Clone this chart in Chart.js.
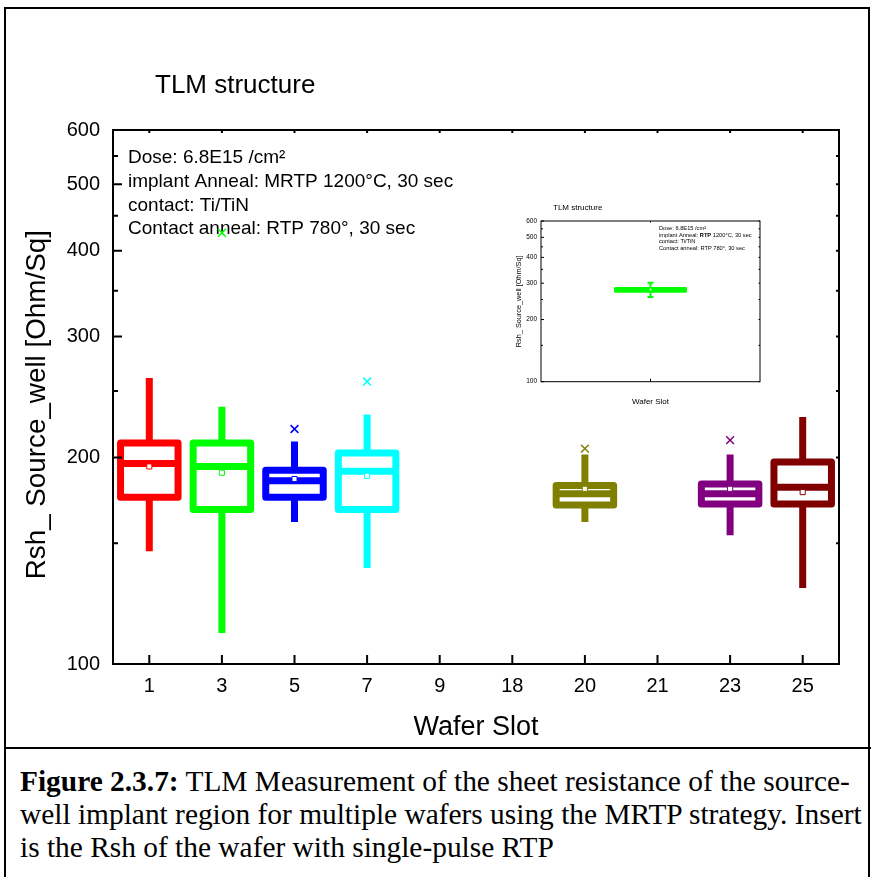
<!DOCTYPE html>
<html>
<head>
<meta charset="utf-8">
<script src="https://cdn.jsdelivr.net/npm/chart.js@4.4.0/dist/chart.umd.min.js"></script>
<style>
  html, body { margin: 0; padding: 0; background: #fff; }
  #fig { position: relative; width: 871px; height: 877px; overflow: hidden; }
  #frame { position: absolute; left: 4px; top: 7px; width: 866px; height: 900px; border: 2px solid #000; box-sizing: border-box; }
  #sep { position: absolute; left: 4px; top: 747px; width: 867px; height: 2px; background: #000; }
  #main { position: absolute; left: 0; top: 0; }
  #inset { position: absolute; left: 488px; top: 195px; }
  #caption { position: absolute; left: 20px; top: 765px; white-space: nowrap;
    font-family: 'Liberation Serif', 'Times New Roman', serif; font-size: 29.4px; line-height: 33px; color: #000; }
</style>
</head>
<body>
<div id="fig">
  <div id="frame"></div>
  <div id="sep"></div>
  <canvas id="main" width="871" height="748"></canvas>
  <canvas id="inset" width="285" height="220"></canvas>
  <div id="caption"><b>Figure 2.3.7:</b> TLM Measurement of the sheet resistance of the source-<br>well implant region for multiple wafers using the MRTP strategy. Insert<br>is the Rsh of the wafer with single-pulse RTP</div>
</div>
<script>
// wafer slots and box statistics (Ohm/Sq), MRTP wafers
var slots = ['1', '3', '5', '7', '9', '18', '20', '21', '23', '25'];
var slotColors = ['#ff0000', '#00ff00', '#0000ff', '#00ffff', '#000000', '#000000', '#808000', '#000000', '#800080', '#800000'];
var whiskerLow  = [146, 111, 161, 138, null, null, 161, null, 154, 129];
var q1          = [175, 168, 175, 168, null, null, 170.5, null, 171, 171];
var median      = [196, 194, 185, 191, null, null, 177, null, 177, 181];
var q3          = [210, 210, 191.5, 203, null, null, 182, null, 183, 197];
var whiskerHigh = [261, 237, 211, 231, null, null, 202, null, 202, 229];
var means       = [194, 190, 186, 188, null, null, 180, null, 180, 178];
var outliers    = [null, 425, 220, 258, null, null, 206, null, 212, null];

var yTickValues = [100, 150, 200, 250, 300, 350, 400, 450, 500, 550, 600];
var yTickLabels = [100, 200, 300, 400, 500, 600];

var notes = ['Dose: 6.8E15 /cm\u00b2', 'implant Anneal: MRTP 1200\u00b0C, 30 sec', 'contact: Ti/TiN', 'Contact anneal: RTP 780\u00b0, 30 sec'];

// single-pulse RTP wafer (insert)
var insetSlots = ['RTP'];
var insetColors = ['#00ff00'];
var insetLow = [257];
var insetQ1 = [274];
var insetMedian = [279];
var insetQ3 = [283];
var insetHigh = [301];
var insetMean = [279];
var insetNotes = [
    [['Dose: 6.8E15 /cm\u00b2', false]],
    [['implant Anneal: ', false], ['RTP', true], [' 1200\u00b0C, 30 sec', false]],
    [['contact: Ti/TiN', false]],
    [['Contact anneal: RTP 780\u00b0, 30 sec', false]]
];

var sans = "'Liberation Sans', Arial, sans-serif";
Chart.defaults.font.family = sans;
Chart.defaults.color = '#000';
Chart.defaults.animation = false;

function boxPlugin(s, st) {
    return {
        id: 'boxes',
        beforeDatasetsDraw: function(chart) {
            var ctx = chart.ctx, x = chart.scales.x, y = chart.scales.y;
            ctx.save();
            ctx.lineJoin = 'round';
            s.q1.forEach(function(lo, i) {
                if (lo == null) return;
                var cx = x.getPixelForValue(i);
                var half = st.width / 2;
                var pLow = y.getPixelForValue(s.low[i]);
                var pQ1 = y.getPixelForValue(lo);
                var pMed = y.getPixelForValue(s.median[i]);
                var pQ3 = y.getPixelForValue(s.q3[i]);
                var pHigh = y.getPixelForValue(s.high[i]);
                ctx.strokeStyle = s.colors[i];
                ctx.lineCap = 'butt';
                ctx.lineWidth = st.whisker;
                ctx.beginPath();
                ctx.moveTo(cx, pQ1); ctx.lineTo(cx, pLow);
                ctx.moveTo(cx, pQ3); ctx.lineTo(cx, pHigh);
                if (st.cap) {
                    ctx.moveTo(cx - st.cap, pLow); ctx.lineTo(cx + st.cap, pLow);
                    ctx.moveTo(cx - st.cap, pHigh); ctx.lineTo(cx + st.cap, pHigh);
                }
                ctx.stroke();
                ctx.lineWidth = st.line;
                ctx.strokeRect(cx - half, pQ3, 2 * half, pQ1 - pQ3);
                ctx.beginPath();
                ctx.moveTo(cx - half, pMed); ctx.lineTo(cx + half, pMed);
                ctx.stroke();
            });
            ctx.restore();
        }
    };
}

// closed frame with inward ticks on all four sides
function framePlugin(st) {
    return {
        id: 'frame',
        afterDraw: function(chart) {
            var ctx = chart.ctx, a = chart.chartArea, x = chart.scales.x, y = chart.scales.y;
            ctx.save();
            ctx.strokeStyle = '#000';
            ctx.lineWidth = st.tickWidth;
            ctx.beginPath();
            x.ticks.forEach(function(t, i) {
                var px = x.getPixelForTick(i);
                ctx.moveTo(px, a.bottom); ctx.lineTo(px, a.bottom - st.major);
                ctx.moveTo(px, a.top); ctx.lineTo(px, a.top + st.mirror);
            });
            y.ticks.forEach(function(t) {
                var py = y.getPixelForValue(t.value);
                var len = yTickLabels.indexOf(t.value) >= 0 ? st.major : st.minor;
                ctx.moveTo(a.left, py); ctx.lineTo(a.left + len, py);
                ctx.moveTo(a.right, py); ctx.lineTo(a.right - st.mirror, py);
            });
            ctx.stroke();
            ctx.lineWidth = st.frame;
            ctx.strokeRect(a.left, a.top, a.right - a.left, a.bottom - a.top);
            ctx.restore();
        }
    };
}

function textPlugin(st) {
    return {
        id: 'texts',
        beforeDraw: function(chart) {
            var ctx = chart.ctx, a = chart.chartArea;
            ctx.save();
            if (st.background) {
                ctx.fillStyle = st.background;
                ctx.fillRect(0, 0, chart.width, chart.height);
            }
            ctx.fillStyle = '#000';
            ctx.textBaseline = 'alphabetic';
            ctx.font = st.titleSize + 'px ' + sans;
            ctx.fillText('TLM structure', a.left + st.titleX, a.top - st.titleY);
            st.lines.forEach(function(line, i) {
                var tx = a.left + st.noteX;
                line.forEach(function(seg) {
                    ctx.font = (seg[1] ? 'bold ' : '') + st.noteSize + 'px ' + sans;
                    ctx.fillText(seg[0], tx, a.top + st.noteY + i * st.noteStep);
                    tx += ctx.measureText(seg[0]).width;
                });
            });
            ctx.restore();
        }
    };
}

function yTicks(scale) {
    scale.ticks = yTickValues.map(function(v) { return {value: v}; });
}

function yLabel(v) {
    return yTickLabels.indexOf(v) >= 0 ? String(v) : '';
}

new Chart(document.getElementById('main'), {
    type: 'line',
    data: {
        labels: slots,
        datasets: [{
            label: 'Mean',
            data: means,
            showLine: false,
            pointStyle: 'rect',
            pointRadius: 3.6,
            pointBorderWidth: 1,
            pointBackgroundColor: '#fff',
            pointBorderColor: slotColors
        }, {
            label: 'Outlier',
            data: outliers,
            showLine: false,
            pointStyle: 'crossRot',
            pointRadius: 5.5,
            pointBorderWidth: 1.5,
            pointBorderColor: slotColors
        }]
    },
    options: {
        responsive: false,
        layout: {padding: {left: 0, top: 130, right: 32, bottom: 0}},
        plugins: {legend: {display: false}, tooltip: {enabled: false}},
        scales: {
            x: {
                type: 'category',
                offset: true,
                grid: {display: false, drawTicks: false},
                border: {display: false},
                ticks: {font: {size: 20}, padding: 10, autoSkip: false, maxRotation: 0},
                title: {display: true, text: 'Wafer Slot', font: {size: 27}, padding: {top: 0, bottom: 4}},
                afterFit: function(s) { s.height = 84; }
            },
            y: {
                type: 'logarithmic',
                min: 100,
                max: 600,
                grid: {display: false, drawTicks: false},
                border: {display: false},
                afterBuildTicks: yTicks,
                ticks: {font: {size: 20}, padding: 13, autoSkip: false, callback: yLabel},
                // trailing spaces push the label a little below the axis centre
                title: {display: true, text: 'Rsh_ Source_well [Ohm/Sq]  ', font: {size: 27.8}, padding: {top: 21, bottom: 0}},
                afterFit: function(s) { s.width = 113; }
            }
        }
    },
    plugins: [
        boxPlugin({low: whiskerLow, q1: q1, median: median, q3: q3, high: whiskerHigh, colors: slotColors},
                  {width: 57.5, line: 7, whisker: 7}),
        framePlugin({frame: 2, tickWidth: 2, major: 9, minor: 5, mirror: 3}),
        textPlugin({titleSize: 26, titleX: 42, titleY: 37, lines: notes.map(function(n) { return [[n, false]]; }),
                    noteSize: 19, noteX: 15, noteY: 33.3, noteStep: 23.6})
    ]
});

new Chart(document.getElementById('inset'), {
    type: 'line',
    data: {
        labels: insetSlots,
        datasets: [{
            label: 'Mean',
            data: insetMean,
            showLine: false,
            pointStyle: 'rect',
            pointRadius: 1.6,
            pointBorderWidth: 0.6,
            pointBackgroundColor: '#fff',
            pointBorderColor: insetColors
        }]
    },
    options: {
        responsive: false,
        layout: {padding: {left: 0, top: 26, right: 13, bottom: 0}},
        plugins: {legend: {display: false}, tooltip: {enabled: false}},
        scales: {
            x: {
                type: 'category',
                offset: true,
                grid: {display: false, drawTicks: false},
                border: {display: false},
                ticks: {callback: function() { return ''; }},
                title: {display: true, text: 'Wafer Slot', font: {size: 8}, padding: {top: 0, bottom: 8.5}},
                afterFit: function(s) { s.height = 33.3; }
            },
            y: {
                type: 'logarithmic',
                min: 100,
                max: 600,
                grid: {display: false, drawTicks: false},
                border: {display: false},
                afterBuildTicks: yTicks,
                ticks: {font: {size: 6.5}, padding: 4, autoSkip: false, callback: yLabel},
                title: {display: true, text: 'Rsh_ Source_well [Ohm/Sq]', font: {size: 7.3}, padding: {top: 27, bottom: 0}},
                afterFit: function(s) { s.width = 53; }
            }
        }
    },
    plugins: [
        boxPlugin({low: insetLow, q1: insetQ1, median: insetMedian, q3: insetQ3, high: insetHigh, colors: insetColors},
                  {width: 70, line: 3, whisker: 2, cap: 3}),
        framePlugin({frame: 1, tickWidth: 1, major: 3, minor: 2, mirror: 1.5}),
        textPlugin({background: '#fff', titleSize: 8, titleX: 12, titleY: 11, lines: insetNotes,
                    noteSize: 5.7, noteX: 118, noteY: 9, noteStep: 6.6})
    ]
});
</script>
</body>
</html>
